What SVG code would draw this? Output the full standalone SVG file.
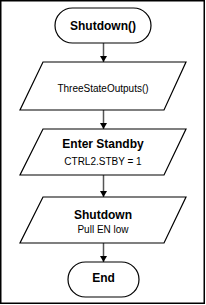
<svg xmlns="http://www.w3.org/2000/svg" width="206" height="305" viewBox="0 0 206 305">
<defs>
<style>
.shape{fill:#fff;stroke:#000;stroke-width:1.2}
.conn{stroke:#555;stroke-width:1.5;fill:none}
.b{font-family:"Liberation Sans",Arial,sans-serif;font-weight:bold;font-size:12px;text-anchor:middle;fill:#000}
.r{font-family:"Liberation Sans",Arial,sans-serif;font-size:10px;text-anchor:middle;fill:#000}
</style>
<marker id="ah" viewBox="0 0 6 7" refX="6" refY="3.5" markerWidth="6" markerHeight="7" markerUnits="userSpaceOnUse" orient="auto">
<path d="M0,0 L6,3.5 L0,7 z" fill="#000"/>
</marker>
</defs>
<rect x="0.75" y="0.75" width="203.5" height="302.5" fill="#fff" stroke="#000" stroke-width="1.5"/>
<g id="connectors">
<line class="conn" x1="103.5" y1="43" x2="103.5" y2="62" marker-end="url(#ah)"/>
<line class="conn" x1="103.5" y1="110" x2="103.5" y2="129" marker-end="url(#ah)"/>
<line class="conn" x1="103.5" y1="175" x2="103.5" y2="197" marker-end="url(#ah)"/>
<line class="conn" x1="103.5" y1="243" x2="103.5" y2="262" marker-end="url(#ah)"/>
</g>
<g id="start">
<rect class="shape" x="55" y="8" width="96" height="35" rx="17.5"/>
<text class="b" x="103" y="29.5">Shutdown()</text>
</g>
<g id="threestate">
<polygon class="shape" points="43,62 186,62 164,110 20,110"/>
<text class="r" x="103" y="91.5">ThreeStateOutputs()</text>
</g>
<g id="standby">
<polygon class="shape" points="43,129 186,129 164,175 20,175"/>
<text class="b" x="103" y="148">Enter Standby</text>
<text class="r" x="103" y="165">CTRL2.STBY = 1</text>
</g>
<g id="shutdown">
<polygon class="shape" points="43,197 186,197 164,243 20,243"/>
<text class="b" x="103" y="218.5">Shutdown</text>
<text class="r" x="103" y="233">Pull EN low</text>
</g>
<g id="end">
<rect class="shape" x="68" y="262" width="71" height="35" rx="17.5"/>
<text class="b" x="103.5" y="282">End</text>
</g>
</svg>
